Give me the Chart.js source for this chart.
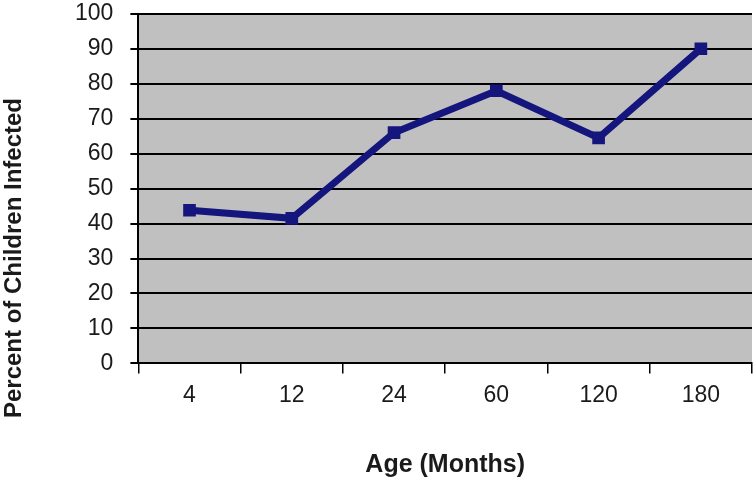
<!DOCTYPE html>
<html>
<head>
<meta charset="utf-8">
<script src="https://cdn.jsdelivr.net/npm/chart.js@4"></script>
<style>
  html, body { margin: 0; padding: 0; background: #ffffff; }
  #wrap { width: 753px; height: 480px; }
</style>
</head>
<body>
<div id="wrap"><canvas id="chart" width="753" height="480"></canvas></div>
<script>
// data
const ageLabels = ['4', '12', '24', '60', '120', '180'];
const percentInfected = [43.8, 41.5, 66, 78, 64.5, 90];
const yTicks = [0, 10, 20, 30, 40, 50, 60, 70, 80, 90, 100];
const yTitle = 'Percent of Children Infected';

const font = "'Liberation Sans', Arial, sans-serif";

// gray plot background
const plotBackground = {
	id: 'plotBackground',
	beforeDraw (chart) {
		const a = chart.chartArea;
		const ctx = chart.ctx;
		ctx.save();
		ctx.fillStyle = '#c0c0c0';
		ctx.fillRect(a.left, a.top, a.right - a.left, a.bottom - a.top);
		ctx.restore();
	}
};

// y title sits lower than the axis middle in the original, so place it by hand
const yTitlePlugin = {
	id: 'yTitlePlugin',
	afterDraw (chart) {
		const ctx = chart.ctx;
		ctx.save();
		ctx.translate(14, 258);
		ctx.rotate(-Math.PI / 2);
		ctx.font = 'bold 24px ' + font;
		ctx.fillStyle = '#1a1a1a';
		ctx.textAlign = 'center';
		ctx.textBaseline = 'middle';
		ctx.fillText(yTitle, 0, 0);
		ctx.restore();
	}
};

new Chart('chart', {
	type: 'line',
	data: {
		labels: ageLabels,
		datasets: [{
			data: percentInfected,
			borderColor: '#15157e',
			backgroundColor: '#15157e',
			borderWidth: 7,
			pointStyle: 'rect',
			pointRadius: 4,
			pointHoverRadius: 4,
			tension: 0,
		}],
	},
	options: {
		responsive: false,
		animation: false,
		events: [],
		layout: {
			autoPadding: false,
			padding: {top: 0, right: 1, left: 75, bottom: 0},
		},
		plugins: {
			legend: {display: false},
			tooltip: {enabled: false},
		},
		scales: {
			x: {
				offset: true,
				grid: {
					offset: true,
					drawOnChartArea: false,
					color: '#000',
					lineWidth: 1.5,
					tickLength: 10,
				},
				border: {color: '#000', width: 2},
				ticks: {
					color: '#1a1a1a',
					font: {family: font, size: 23},
					padding: 8,
				},
				title: {
					display: true,
					text: 'Age (Months)',
					color: '#1a1a1a',
					font: {family: font, size: 25, weight: 'bold'},
					padding: {top: 33, bottom: 0},
				},
			},
			y: {
				min: 0,
				max: 100,
				afterBuildTicks (axis) {
					axis.ticks = yTicks.map(v => ({value: v}));
				},
				grid: {
					color: '#000',
					lineWidth: 2,
					// long tick gap for the labels, only the last 8px drawn
					tickLength: 25,
					tickBorderDash: [8, 17],
					tickBorderDashOffset: 8,
				},
				border: {color: '#000', width: 2},
				ticks: {
					color: '#1a1a1a',
					font: {family: font, size: 23},
					padding: 0,
				},
			},
		},
	},
	plugins: [plotBackground, yTitlePlugin],
});
</script>
</body>
</html>
